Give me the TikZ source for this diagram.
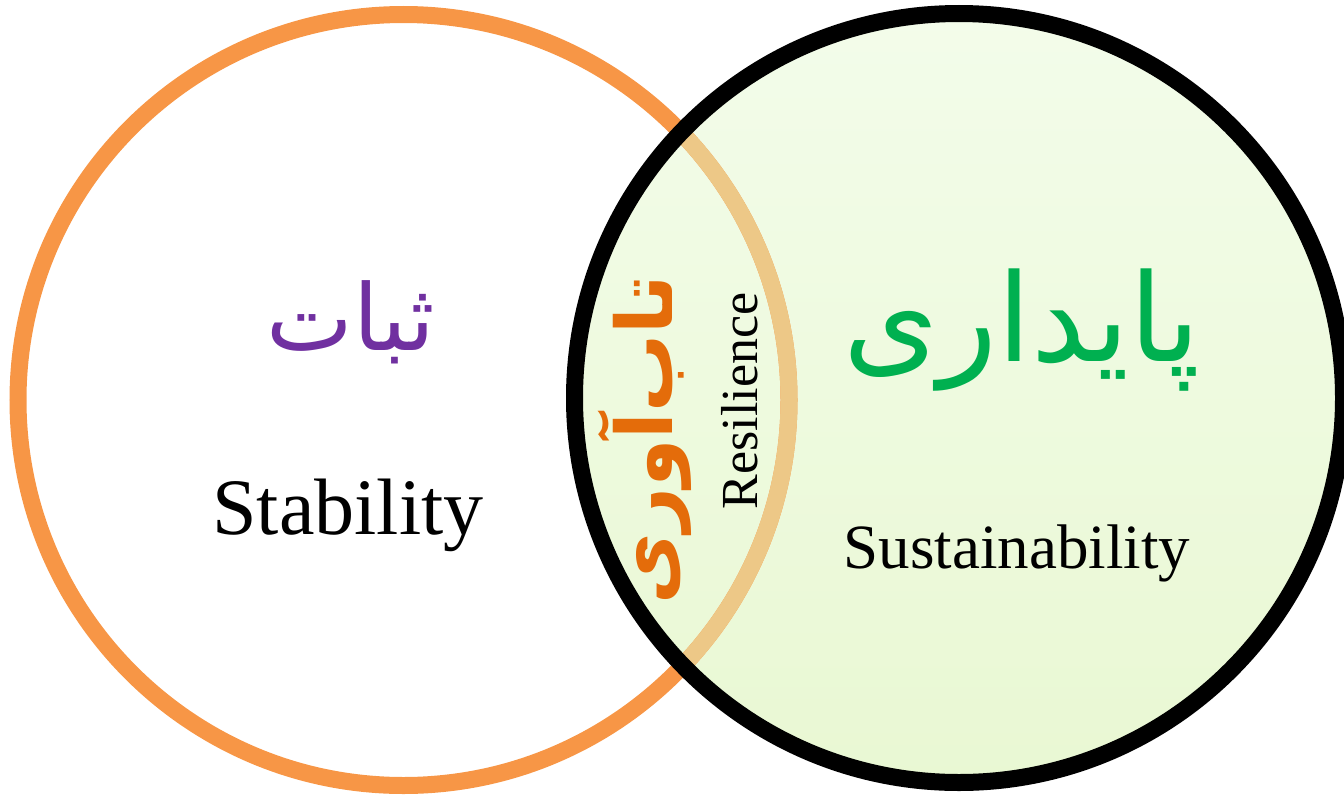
\documentclass[tikz,border=0pt]{standalone}
\usepackage{fontspec}
\setmainfont{Liberation Serif}
\newfontfamily\arabicfont[Script=Arabic]{DejaVu Sans}
\TeXXeTstate=1
\definecolor{ringorange}{RGB}{247,150,70}
\definecolor{paleorange}{RGB}{237,200,135}
\definecolor{greentop}{RGB}{243,252,234}
\definecolor{greenbot}{RGB}{233,248,211}
\definecolor{txtpurple}{RGB}{112,48,160}
\definecolor{txtgreen}{RGB}{0,176,80}
\definecolor{txtorange}{RGB}{228,108,10}
\tikzset{
  lbl/.style={inner sep=0pt, outer sep=0pt, anchor=center},
  ring/.style={line width=17pt},
}
\begin{document}
\begin{tikzpicture}[x=1pt,y=-1pt]
\useasboundingbox (0,0) rectangle (1344,795);
\coordinate (cl) at (403.5,400);
\coordinate (cr) at (959,398);
% right circle fill
\shade[top color=greentop, bottom color=greenbot] (cr) circle[radius=384.5];
% orange ring
\draw[ring, draw=ringorange] (cl) circle[radius=385.5];
\begin{scope}
  \clip (cr) circle[radius=384.5];
  \draw[ring, draw=paleorange] (cl) circle[radius=385.5];
\end{scope}
% black ring
\draw[ring, draw=black] (cr) circle[radius=384.5];
% texts
\node[lbl, text=txtpurple, font=\arabicfont\fontsize{92}{110}\selectfont] (sabat) at (351,322) {\beginR ثبات\endR};
\node[lbl, font=\fontsize{80}{96}\selectfont] (stab) at (348,515) {Stability};
\node[lbl, text=txtgreen, font=\arabicfont\fontsize{122}{146}\selectfont] (paydari) at (1022,330) {\beginR پایداری\endR};
\node[lbl, font=\fontsize{63}{76}\selectfont] (sust) at (1017,553) {Sustainability};
\node[lbl, rotate=90, text=txtorange, font=\arabicfont\bfseries\fontsize{78}{94}\selectfont] (tab) at (645,440) {\beginR تاب‌آوری\endR};
\node[lbl, rotate=90, font=\fontsize{52}{62}\selectfont] (res) at (740,401) {Resilience};
\end{tikzpicture}
\end{document}
